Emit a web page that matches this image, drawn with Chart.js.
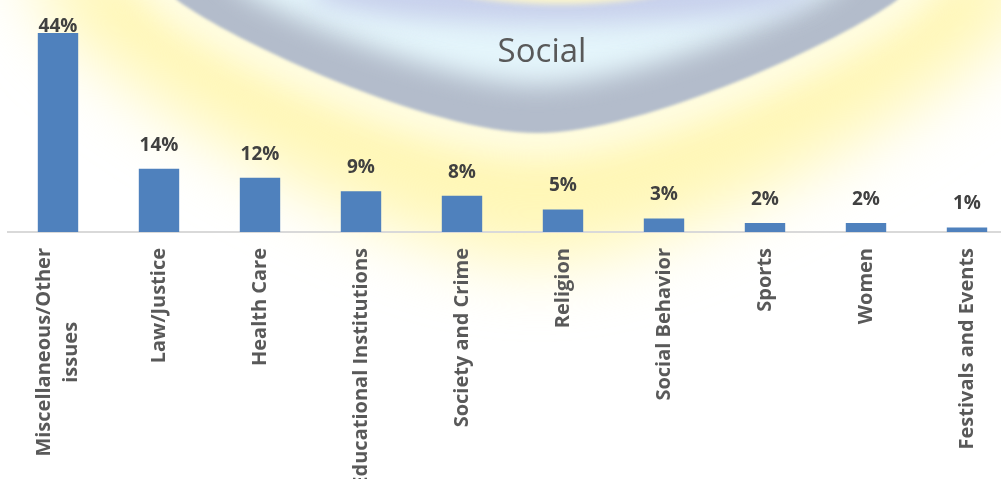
<!DOCTYPE html>
<html>
<head>
<meta charset="utf-8">
<script src="https://cdn.jsdelivr.net/npm/chart.js@4/dist/chart.umd.min.js"></script>
<style>
  html, body { margin: 0; padding: 0; overflow: hidden; background: #fff; width: 1001px; height: 479px; }
  canvas { display: block; }
</style>
</head>
<body>
<canvas id="chart" width="1018" height="479"></canvas>
<script>
// Share of social topics (percent)
const categories = [
  ["Miscellaneous/Other", "issues"],
  "Law/Justice",
  "Health Care",
  "Educational Institutions",
  "Society and Crime",
  "Religion",
  "Social Behavior",
  "Sports",
  "Women",
  "Festivals and Events"
];
const shares = [44, 14, 12, 9, 8, 5, 3, 2, 2, 1];
const chartTitle = "Social";

const BAR_COLOR = "#4f81bd";
const AXIS_COLOR = "#d9d9d9";
const LABEL_COLOR = "#595959";
const VALUE_COLOR = "#404040";

// Outline of the ring's outer edge, optionally scaled about (cx, cy)
function ringPath(ctx, sx, sy) {
  const cx = 537, cy = -40;
  const T = (x, y) => [cx + (x - cx) * sx, cy + (y - cy) * sy];
  ctx.beginPath();
  ctx.moveTo(...T(140, -45));
  ctx.lineTo(...T(177, 0));
  ctx.bezierCurveTo(...T(230, 40), ...T(430, 133), ...T(537, 133));
  ctx.bezierCurveTo(...T(644, 133), ...T(844, 40), ...T(897, 0));
  ctx.lineTo(...T(934, -45));
  ctx.closePath();
}

const backdrop = {
  id: "backdrop",
  beforeDraw(chart) {
    const ctx = chart.ctx;
    ctx.save();
    ctx.fillStyle = "#ffffff";
    ctx.fillRect(0, 0, chart.width, chart.height);

    // soft yellow glow around the ring
    ctx.filter = "blur(34px)";
    ringPath(ctx, 1.32, 1.75);
    ctx.fillStyle = "rgba(255, 246, 170, 0.85)";
    ctx.fill();

    // pale halo right next to the ring
    ctx.filter = "blur(16px)";
    ringPath(ctx, 1.0, 1.0);
    ctx.lineWidth = 50;
    ctx.strokeStyle = "rgba(255, 254, 238, 0.8)";
    ctx.stroke();

    // ring body
    ctx.filter = "blur(1.5px)";
    ringPath(ctx, 1.0, 1.0);
    ctx.fillStyle = "#b3bccb";
    ctx.fill();

    // lighter inner part of the ring
    ctx.filter = "blur(13px)";
    ringPath(ctx, 0.83, 0.72);
    ctx.fillStyle = "#e4f5fb";
    ctx.fill();

    // bluish-grey band toward the top
    ctx.filter = "blur(12px)";
    ctx.beginPath();
    ctx.ellipse(560, -8, 250, 32, 0, 0, Math.PI * 2);
    ctx.fillStyle = "rgba(196, 204, 234, 0.9)";
    ctx.fill();

    // opening of the ring at the top edge
    ctx.filter = "blur(3px)";
    ctx.beginPath();
    ctx.ellipse(560, -26, 135, 30, 0, 0, Math.PI * 2);
    ctx.fillStyle = "#fbf5cc";
    ctx.fill();

    // title
    ctx.filter = "none";
    ctx.fillStyle = LABEL_COLOR;
    ctx.font = '33px "Open Sans"';
    ctx.textAlign = "center";
    ctx.textBaseline = "alphabetic";
    ctx.fillText(chartTitle, 542, 62);
    ctx.restore();
  }
};

const labels = {
  id: "labels",
  afterDatasetsDraw(chart) {
    const ctx = chart.ctx;
    const area = chart.chartArea;
    const meta = chart.getDatasetMeta(0);
    const xScale = chart.scales.x;
    ctx.save();

    // value labels above bars
    ctx.font = 'bold 19px "Open Sans"';
    ctx.fillStyle = VALUE_COLOR;
    ctx.textAlign = "center";
    ctx.textBaseline = "alphabetic";
    meta.data.forEach((bar, i) => {
      let y = bar.y - 18;
      if (y - 14 < area.top + 12) y = bar.y - 1;
      ctx.fillText(shares[i] + "%", bar.x, y);
    });

    // rotated category labels
    ctx.font = 'bold 20px "Open Sans"';
    ctx.fillStyle = LABEL_COLOR;
    ctx.textBaseline = "middle";
    const lineHeight = 27;
    categories.forEach((cat, i) => {
      const lines = Array.isArray(cat) ? cat : [cat];
      const x = xScale.getPixelForTick(i);
      const w = Math.max(...lines.map(l => ctx.measureText(l).width));
      ctx.save();
      ctx.translate(x, area.bottom + 16);
      ctx.rotate(-Math.PI / 2);
      ctx.textAlign = "center";
      lines.forEach((line, j) => {
        ctx.fillText(line, -w / 2, (j - (lines.length - 1) / 2) * lineHeight);
      });
      ctx.restore();
    });
    ctx.restore();
  }
};

new Chart(document.getElementById("chart"), {
  type: "bar",
  data: {
    labels: categories,
    datasets: [{
      data: shares,
      backgroundColor: BAR_COLOR,
      borderWidth: 0,
      categoryPercentage: 0.8,
      barPercentage: 0.5
    }]
  },
  options: {
    responsive: false,
    animation: false,
    layout: { padding: { top: 6, left: 7.5, right: 0.5, bottom: 247 } },
    plugins: { legend: { display: false }, tooltip: { enabled: false }, title: { display: false } },
    scales: {
      x: {
        display: true,
        grid: { display: false, drawTicks: false },
        border: { display: true, color: AXIS_COLOR, width: 2 },
        ticks: { display: false }
      },
      y: { display: false, min: 0, max: 50 }
    }
  },
  plugins: [backdrop, labels]
});
</script>
</body>
</html>
